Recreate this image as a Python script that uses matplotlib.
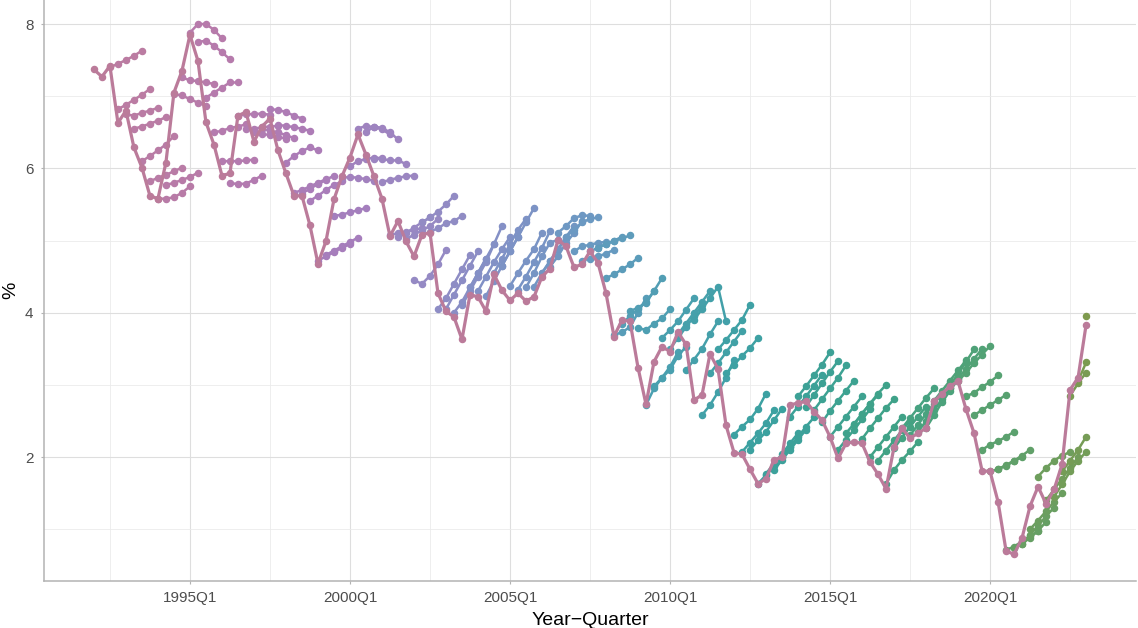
import matplotlib
matplotlib.use("Agg")
import matplotlib.pyplot as plt
from matplotlib.colors import LinearSegmentedColormap

# quarterly series starting 1992Q1
start_year = 1992
actual = [7.37, 7.27, 7.42, 6.63, 6.80, 6.29, 6.01, 5.62, 5.58, 6.08,
          7.05, 7.35, 7.85, 7.49, 6.64, 6.33, 5.90, 5.93, 6.73, 6.78,
          6.37, 6.58, 6.69, 6.25, 5.93, 5.62, 5.62, 5.21, 4.68, 4.99,
          5.57, 5.89, 6.15, 6.47, 6.19, 5.89, 5.58, 5.06, 5.27, 4.99,
          4.78, 5.08, 5.11, 4.27, 4.02, 3.94, 3.63, 4.25, 4.22, 4.02,
          4.53, 4.31, 4.17, 4.27, 4.16, 4.22, 4.50, 4.61, 5.01, 4.92,
          4.63, 4.67, 4.85, 4.69, 4.27, 3.67, 3.90, 3.88, 3.24, 2.73,
          3.32, 3.53, 3.46, 3.73, 3.56, 2.79, 2.86, 3.43, 3.22, 2.44,
          2.06, 2.04, 1.83, 1.63, 1.70, 1.96, 2.00, 2.72, 2.75, 2.77,
          2.63, 2.51, 2.28, 1.98, 2.19, 2.21, 2.19, 1.93, 1.76, 1.56,
          2.14, 2.40, 2.26, 2.33, 2.40, 2.77, 2.88, 2.98, 3.05, 2.66,
          2.33, 1.81, 1.80, 1.38, 0.70, 0.65, 0.88, 1.32, 1.59, 1.35,
          1.55, 1.90, 2.93, 3.10, 3.83]

# forecast origin (quarter index) and forecast path from that quarter
fc_origin = list(range(2, 125))
fc_values = [
    [7.40, 7.45, 7.50, 7.56, 7.63],
    [6.82, 6.88, 6.95, 7.02, 7.10],
    [6.75, 6.73, 6.77, 6.80, 6.84],
    [6.55, 6.58, 6.62, 6.66, 6.71],
    [6.10, 6.17, 6.25, 6.33, 6.45],
    [5.82, 5.87, 5.91, 5.96, 6.01],
    [5.58, 5.58, 5.60, 5.66, 5.75],
    [5.77, 5.80, 5.84, 5.88, 5.94],
    [7.03, 7.01, 6.96, 6.91, 6.87],
    [7.26, 7.22, 7.21, 7.19, 7.17],
    [7.88, 8.00, 8.00, 7.92, 7.80],
    [7.75, 7.77, 7.70, 7.61, 7.51],
    [6.98, 7.05, 7.12, 7.19, 7.19],
    [6.50, 6.52, 6.56, 6.58, 6.61],
    [6.10, 6.10, 6.10, 6.11, 6.12],
    [5.80, 5.78, 5.79, 5.84, 5.90],
    [6.73, 6.75, 6.75, 6.76, 6.74],
    [6.54, 6.55, 6.57, 6.58, 6.59],
    [6.50, 6.48, 6.46, 6.44, 6.41],
    [6.55, 6.52, 6.50, 6.46, 6.42],
    [6.82, 6.81, 6.78, 6.73, 6.69],
    [6.60, 6.59, 6.57, 6.55, 6.52],
    [6.08, 6.17, 6.24, 6.29, 6.25],
    [5.66, 5.70, 5.75, 5.80, 5.85],
    [5.65, 5.72, 5.78, 5.84, 5.90],
    [5.55, 5.62, 5.70, 5.77, 5.82],
    [4.72, 4.78, 4.84, 4.90, 4.95],
    [4.80, 4.86, 4.92, 4.98, 5.04],
    [5.34, 5.36, 5.39, 5.42, 5.45],
    [5.87, 5.88, 5.87, 5.85, 5.83],
    [6.03, 6.10, 6.13, 6.15, 6.14],
    [6.55, 6.59, 6.57, 6.54, 6.47],
    [6.50, 6.58, 6.56, 6.50, 6.40],
    [6.13, 6.13, 6.11, 6.11, 6.06],
    [5.81, 5.84, 5.87, 5.89, 5.90],
    [5.08, 5.10, 5.12, 5.15, 5.17],
    [5.05, 5.10, 5.18, 5.25, 5.32],
    [5.02, 5.08, 5.14, 5.20, 5.30],
    [4.45, 4.40, 4.51, 4.67, 4.87],
    [5.25, 5.32, 5.40, 5.50, 5.62],
    [5.12, 5.17, 5.24, 5.27, 5.34],
    [4.05, 4.20, 4.40, 4.60, 4.80],
    [4.05, 4.25, 4.45, 4.65, 4.85],
    [4.00, 4.15, 4.35, 4.55, 4.75],
    [4.10, 4.30, 4.50, 4.70, 4.95],
    [4.35, 4.55, 4.75, 4.95, 5.20],
    [4.30, 4.50, 4.70, 4.88, 5.05],
    [4.23, 4.44, 4.65, 4.85, 5.05],
    [4.55, 4.75, 4.95, 5.15, 5.30],
    [4.65, 4.85, 5.05, 5.25, 5.45],
    [4.37, 4.55, 4.72, 4.88, 5.11],
    [4.32, 4.50, 4.70, 4.90, 5.13],
    [4.35, 4.55, 4.78, 4.97, 5.01],
    [4.36, 4.55, 4.71, 4.88, 5.02],
    [4.55, 4.72, 4.88, 5.05, 5.20],
    [4.64, 4.78, 4.97, 5.10, 5.27],
    [5.11, 5.20, 5.31, 5.35, 5.34],
    [5.05, 5.15, 5.25, 5.30, 5.32],
    [4.85, 4.92, 4.94, 4.97, 4.98],
    [4.72, 4.75, 4.78, 4.82, 4.87],
    [4.85, 4.90, 4.95, 5.00, 5.05],
    [4.90, 4.95, 4.99, 5.03, 5.07],
    [4.48, 4.53, 4.60, 4.67, 4.76],
    [3.69, 3.73, 3.80, 4.00, 4.20],
    [3.85, 3.95, 4.05, 4.15, 4.30],
    [4.02, 4.07, 4.14, 4.30, 4.48],
    [3.79, 3.76, 3.85, 3.92, 4.05],
    [2.72, 2.95, 3.10, 3.25, 3.45],
    [2.98, 3.10, 3.21, 3.40, 3.53],
    [3.65, 3.76, 3.88, 4.04, 4.20],
    [3.50, 3.65, 3.80, 3.95, 4.10],
    [3.70, 3.85, 4.00, 4.15, 4.30],
    [3.20, 3.35, 3.50, 3.70, 3.88],
    [3.90, 4.05, 4.20, 4.36, 3.88],
    [2.58, 2.72, 2.90, 3.10, 3.35],
    [3.16, 3.30, 3.45, 3.60, 3.75],
    [3.49, 3.62, 3.76, 3.90, 4.11],
    [3.16, 3.28, 3.40, 3.51, 3.65],
    [2.31, 2.42, 2.52, 2.67, 2.88],
    [2.07, 2.20, 2.33, 2.47, 2.65],
    [2.10, 2.23, 2.35, 2.51, 2.67],
    [1.63, 1.75, 1.87, 2.00, 2.14],
    [1.77, 1.91, 2.04, 2.19, 2.33],
    [1.82, 1.96, 2.10, 2.24, 2.38],
    [2.00, 2.14, 2.28, 2.42, 2.55],
    [2.56, 2.70, 2.84, 2.99, 3.14],
    [2.84, 2.98, 3.13, 3.28, 3.45],
    [2.70, 2.86, 3.02, 3.18, 3.33],
    [2.65, 2.80, 2.95, 3.10, 3.27],
    [2.48, 2.64, 2.78, 2.92, 3.06],
    [2.28, 2.42, 2.56, 2.70, 2.84],
    [2.10, 2.24, 2.38, 2.52, 2.66],
    [2.33, 2.46, 2.60, 2.74, 2.86],
    [2.45, 2.60, 2.74, 2.88, 3.00],
    [2.25, 2.40, 2.54, 2.68, 2.80],
    [2.00, 2.14, 2.28, 2.42, 2.56],
    [1.95, 2.09, 2.23, 2.37, 2.50],
    [1.63, 1.82, 1.96, 2.08, 2.21],
    [2.12, 2.27, 2.42, 2.56, 2.70],
    [2.40, 2.54, 2.68, 2.82, 2.95],
    [2.30, 2.45, 2.60, 2.74, 2.88],
    [2.35, 2.50, 2.65, 2.80, 2.95],
    [2.40, 2.58, 2.76, 2.92, 3.08],
    [2.78, 2.92, 3.06, 3.20, 3.34],
    [2.85, 3.00, 3.15, 3.32, 3.49],
    [2.95, 3.09, 3.22, 3.36, 3.50],
    [3.05, 3.17, 3.30, 3.42, 3.54],
    [2.84, 2.89, 2.97, 3.04, 3.13],
    [2.58, 2.65, 2.72, 2.79, 2.86],
    [2.10, 2.17, 2.22, 2.28, 2.35],
    [1.80, 1.83, 1.88, 1.94, 2.00],
    [1.83, 1.89, 1.95, 2.02, 2.10],
    [0.71, 0.76, 0.83, 0.90, 0.97],
    [0.74, 0.80, 0.88, 0.98, 1.10],
    [0.80, 0.92, 1.05, 1.18, 1.30],
    [1.00, 1.12, 1.25, 1.38, 1.50],
    [1.73, 1.85, 1.95, 2.02, 2.07],
    [1.40, 1.55, 1.70, 1.85, 2.00],
    [1.45, 1.62, 1.80, 1.95, 2.07],
    [1.80, 1.95, 2.10, 2.28],
    [2.85, 3.02, 3.17],
    [3.05, 3.31],
    [3.96],
]

tick_years = [1995, 2000, 2005, 2010, 2015, 2020]

cmap = LinearSegmentedColormap.from_list("hue", [
    (0.00, "#bc7ca0"), (0.12, "#b57bae"), (0.22, "#a87dbb"),
    (0.32, "#958ac4"), (0.40, "#7f92c6"), (0.48, "#6a99c2"),
    (0.56, "#4aa0b0"), (0.66, "#3ba1a0"), (0.78, "#3fa288"),
    (0.88, "#55a273"), (0.95, "#6d9e5e"), (1.00, "#7e9a4e")])
actual_col = "#bb7b9a"

plt.rcParams["font.family"] = ["Liberation Sans", "DejaVu Sans"]

fig = plt.figure(figsize=(11.38, 6.28), dpi=100)
ax = fig.add_axes([44 / 1138, 47 / 628, 1092 / 1138, 581 / 628])

n = len(actual)
for q0, vals in zip(fc_origin, fc_values):
    xs = [start_year + (q0 + i) / 4 for i in range(len(vals))]
    col = cmap(q0 / (n - 1))
    ax.plot(xs, vals, "-o", color=col, lw=1.8, ms=4.4, zorder=2)

xa = [start_year + i / 4 for i in range(n)]
ax.plot(xa, actual, "-o", color=actual_col, lw=2.3, ms=4.4, zorder=3)

ax.set_xlim(1990.44, 2024.56)
ax.set_ylim(0.282, 8.333)
ax.set_xticks(tick_years)
ax.set_xticklabels(["{}Q1".format(y) for y in tick_years])
ax.set_xticks([y + 2.5 for y in range(1990, 2023, 5)], minor=True)
ax.set_yticks([2, 4, 6, 8])
ax.set_yticks([1, 3, 5, 7], minor=True)

ax.grid(which="major", color="#dedede", lw=0.8)
ax.grid(which="minor", color="#ebebeb", lw=0.6)
ax.set_axisbelow(True)
for s in ["top", "right"]:
    ax.spines[s].set_visible(False)
for s in ["left", "bottom"]:
    ax.spines[s].set_color("#b3b3b3")
    ax.spines[s].set_linewidth(1.1)
ax.tick_params(which="major", length=2.5, color="#b3b3b3", labelcolor="#4d4d4d",
               labelsize=11, pad=5)
ax.tick_params(which="minor", length=0)

ax.set_xlabel("Year\u2212Quarter", fontsize=14, labelpad=5)
ax.set_ylabel("%", fontsize=14, labelpad=4)

fig.savefig("out.png", dpi=100)
